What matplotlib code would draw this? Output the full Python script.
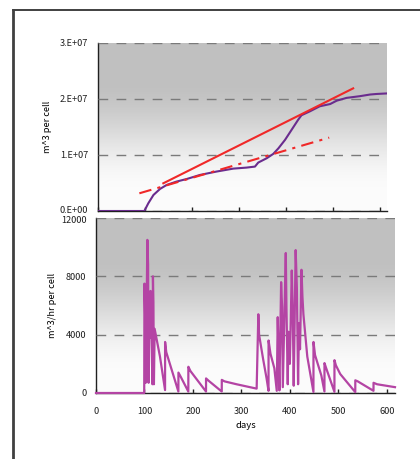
import numpy as np
import matplotlib
matplotlib.use("Agg")
import matplotlib.pyplot as plt
from matplotlib.lines import Line2D
from matplotlib.transforms import ScaledTranslation

plt.rcParams['font.family'] = ['Noto Sans CJK JP', 'DejaVu Sans']

# cumulative volume per cell (m^3)
cum_days = [0, 98.6, 107, 118, 132, 146, 167, 189, 217, 252, 288, 316, 334, 341,
            359, 373, 384, 398, 412, 426, 433, 451, 472, 494, 508, 529, 557, 579,
            593, 616]
cum_volume = [0, 0, 1.37e6, 2.86e6, 3.94e6, 4.65e6, 5.25e6, 5.72e6, 6.44e6,
              7.04e6, 7.57e6, 7.75e6, 7.93e6, 8.65e6, 9.42e6, 1.02e7, 1.12e7,
              1.27e7, 1.45e7, 1.63e7, 1.71e7, 1.78e7, 1.87e7, 1.91e7, 1.97e7,
              2.02e7, 2.05e7, 2.08e7, 2.09e7, 2.10e7]

# trend lines
trend_solid_days = [139, 543]
trend_solid_vals = [4.95e6, 2.19e7]
trend_dashdot_days = [88, 492]
trend_dashdot_vals = [3.16e6, 1.31e7]

# flow rate per cell (m^3/hr)
flow_days = [0, 99.5, 100, 101, 102, 102.6, 105.5, 106, 107.5, 108.5, 110, 111,
             112.5, 114, 116.5, 117.5, 118.5, 119.5, 121, 132, 142.5,
             142.6, 145, 170,
             170.1, 175, 190.5,
             190.6, 195, 227,
             227.1, 232, 259.5,
             259.6, 265, 290, 331.5,
             335, 336.5, 345, 352, 356,
             356.1, 360, 368, 373,
             375, 376.5, 378.5,
             382, 384, 385.5,
             391.6, 393, 395.7, 397, 400,
             404, 406, 408,
             412, 414.5, 417, 419, 421,
             424, 426, 428, 436, 448.7,
             448.8, 452, 465, 471.4,
             471.5, 475, 492,
             492.1, 495, 504, 535,
             535.1, 540, 572.6,
             572.7, 580, 617]
flow_rate = [0, 0, 7500, 6000, 4200, 700, 9000, 10500, 8800, 700, 5800, 3800,
             7000, 4800, 600, 8000, 6200, 600, 4400, 2500, 200,
             3500, 2800, 100,
             1400, 1100, 100,
             1800, 1500, 100,
             1000, 850, 100,
             900, 800, 600, 300,
             5400, 4000, 2300, 1000, 150,
             3600, 2700, 1700, 150,
             5200, 3000, 180,
             7600, 5900, 400,
             9600, 5900, 600, 4200, 2000,
             8400, 5700, 500,
             9800, 7200, 600, 4800, 3000,
             8450, 6600, 5400, 2500, 70,
             3500, 2600, 1200, 100,
             2050, 1700, 80,
             2250, 1900, 1300, 60,
             870, 800, 150,
             700, 600, 400]

top_yticks = [0, 1e7, 2e7, 3e7]
top_ylabels = ['0.E+00', '1.E+07', '2.E+07', '3.E+07']
bot_yticks = [0, 4000, 8000, 12000]
bot_ylabels = ['0', '4000', '8000', '12000']
xticks = [0, 100, 200, 300, 400, 500, 600]
xlabels = ['0', '100', '200', '300', '400', '500', '600']

W, H = 420, 459
fig = plt.figure(figsize=(W / 100, H / 100), dpi=100)
fig.patch.set_facecolor('white')

# outer frame (top and left edges)
fig.add_artist(Line2D([13 / W, 1.0], [1 - 10 / H, 1 - 10 / H],
                      transform=fig.transFigure, color='#202020', lw=1.2))
fig.add_artist(Line2D([13 / W, 13 / W], [0, 1 - 10 / H],
                      transform=fig.transFigure, color='#404040', lw=2.0))

ax1 = fig.add_axes([98 / W, 1 - 211 / H, 289 / W, 168 / H])
ax2 = fig.add_axes([96 / W, 1 - 393 / H, 299 / W, 175 / H])

# vertical gray-to-white background gradient
t = np.linspace(0, 1, 256)
s = np.clip((t - 0.12) / (0.78 - 0.12), 0, 1)
s = s * s * (3 - 2 * s)
g = 0.985 + (0.753 - 0.985) * s
grad = np.dstack([g, g, g]).reshape(256, 1, 3)

fs = 6.6
for ax, ymax in ((ax1, 3e7), (ax2, 12000)):
    ax.imshow(grad, extent=[0, 1, 0, 1], transform=ax.transAxes,
              origin='lower', aspect='auto', zorder=0)
    ax.set_ylim(0, ymax)
    for sp in ('top', 'right'):
        ax.spines[sp].set_visible(False)
    for sp in ('left', 'bottom'):
        ax.spines[sp].set_color('#202020')
        ax.spines[sp].set_linewidth(1.0)
    ax.grid(axis='y', color='#7a7a7a', linestyle=(0, (7, 6)), linewidth=1.0)
    ax.set_axisbelow(False)
    ax.tick_params(axis='y', length=0, pad=7, labelsize=fs)
    ax.tick_params(axis='x', direction='in', length=3, width=1.0,
                   color='#202020', labelsize=fs)

ax1.set_xlim(0, 615)
ax2.set_xlim(0, 617)

ax1.plot(cum_days, cum_volume, color='#6a2c8e', lw=1.5, zorder=3)
ax1.plot(trend_solid_days, trend_solid_vals, color='#f02828', lw=1.5, zorder=4)
ax1.plot(trend_dashdot_days, trend_dashdot_vals, color='#f02828', lw=1.5,
         linestyle=(0, (6, 3, 1.5, 3)), zorder=4)

ax2.plot(flow_days, flow_rate, color='#b444a4', lw=1.6, zorder=3,
         clip_on=False)

ax1.set_yticks(top_yticks)
ax1.set_yticklabels(top_ylabels)
ax1.set_xticks(xticks)
ax1.set_xticklabels([])
ax1.set_ylabel('m^3 per cell', fontsize=fs, labelpad=6)

ax2.set_yticks(bot_yticks)
ax2.set_yticklabels(bot_ylabels)
ax2.set_xticks(xticks)
ax2.set_xticklabels(xlabels)
ax2.tick_params(axis='x', pad=10)
ax2.set_xlabel('days', fontsize=fs + 0.3, labelpad=4)
ax2.set_ylabel('m^3/hr per cell', fontsize=fs, labelpad=3)

for ax in (ax1, ax2):
    for lab in ax.get_yticklabels() + ax.get_xticklabels():
        lab.set_color('#202020')

# keep the two labels at the shared corner apart
lab0 = ax1.get_yticklabels()[0]
lab0.set_transform(lab0.get_transform() + ScaledTranslation(0, 1.5 / 100, fig.dpi_scale_trans))
lab12 = ax2.get_yticklabels()[-1]
lab12.set_transform(lab12.get_transform() + ScaledTranslation(0, -1.5 / 100, fig.dpi_scale_trans))

fig.savefig('out.png', dpi=100)
